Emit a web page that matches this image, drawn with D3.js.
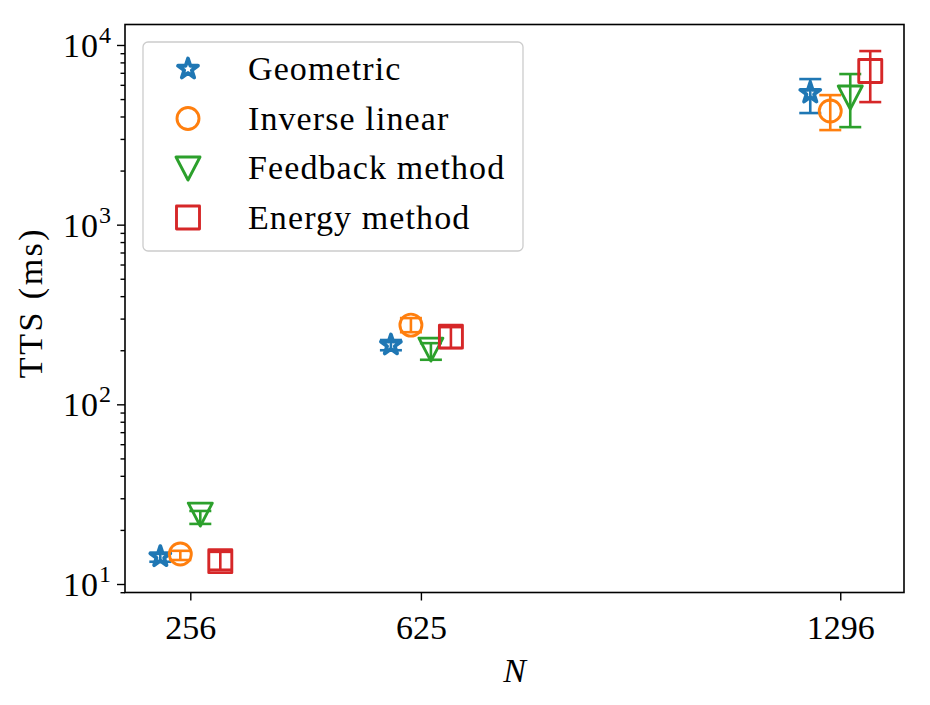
<!DOCTYPE html>
<html>
<head>
<meta charset="utf-8">
<script src="https://cdn.jsdelivr.net/npm/d3@7"></script>
<style>
  body { margin: 0; background: #fff; }
  svg text { font-family: "Liberation Serif", "DejaVu Serif", serif; fill: #000; }
</style>
</head>
<body>
<svg id="chart" width="930" height="705"></svg>
<script>
// data
const sizes = [256, 625, 1296]
const methods = ['Geometric', 'Inverse linear', 'Feedback method', 'Energy method']
const colors = ['#1f77b4', '#ff7f0e', '#2ca02c', '#d62728']
const shapes = ['star', 'circle', 'triangle', 'square']

const geometricTTS = [14.2, 214, 5400]
const geometricLo = [13.3, 200, 4180]
const geometricHi = [14.9, 228, 6460]

const inverseTTS = [14.7, 276, 4290]
const inverseLo = [13.6, 252, 3360]
const inverseHi = [15.3, 302, 5260]

const feedbackTTS = [24.5, 203, 5130]
const feedbackLo = [21.6, 177, 3490]
const feedbackHi = [25.5, 219, 6890]

const energyTTS = [13.4, 238, 7160]
const energyLo = [12.0, 206, 4810]
const energyHi = [15.1, 269, 9250]

const xTicks = [256, 625, 1296]
const yMajor = [10, 100, 1000, 10000]
const yExp = [1, 2, 3, 4]

const series = [
  { tts: geometricTTS, lo: geometricLo, hi: geometricHi },
  { tts: inverseTTS, lo: inverseLo, hi: inverseHi },
  { tts: feedbackTTS, lo: feedbackLo, hi: feedbackHi },
  { tts: energyTTS, lo: energyLo, hi: energyHi }
]

const mLeft = 125, mRight = 904, mTop = 24.5, mBottom = 592.5
const dodge = 32   // horizontal offset between methods, in N units

const x = d3.scaleLinear().domain([151.5, 1398]).range([mLeft, mRight])
const y = d3.scaleLog().domain([Math.pow(10, 0.9527), Math.pow(10, 4.114)]).range([mBottom, mTop])

const svg = d3.select('#chart')

// marker paths
const markerPath = (shape) => {
  if (shape === 'star') {
    const R = 10.5, r = R * 0.381966
    const pts = d3.range(10).map(i => {
      const a = Math.PI / 5 * i - Math.PI / 2
      const rr = i % 2 ? r : R
      return [rr * Math.cos(a), rr * Math.sin(a)]
    })
    return 'M' + pts.join('L') + 'Z'
  }
  if (shape === 'circle') return d3.arc()({ innerRadius: 0, outerRadius: 11, startAngle: 0, endAngle: 2 * Math.PI })
  if (shape === 'triangle') return 'M-12,-11L12,-11L0,12Z'
  return 'M-11.5,-11.5L11.5,-11.5L11.5,11.5L-11.5,11.5Z'
}
const markerWidth = (shape) => shape === 'star' ? 3.8 : 2.9

// axes
svg.append('g')
  .attr('transform', `translate(${mLeft},0)`)
  .call(d3.axisLeft(y).tickValues(yMajor).tickSize(8).tickFormat(''))

const [yMin, yMax] = y.domain()
const minor = []
;[1, 10, 100, 1000].forEach(d => d3.range(2, 10).forEach(k => minor.push(d * k)))
svg.append('g')
  .attr('transform', `translate(${mLeft},0)`)
  .call(d3.axisLeft(y).tickValues(minor.filter(v => v >= yMin && v <= yMax)).tickSize(4.5).tickFormat(''))

svg.selectAll('.domain').remove()
svg.selectAll('.tick line').attr('stroke', '#000').attr('stroke-width', 1.4)

yMajor.forEach((d, i) => {
  const t = svg.append('text')
    .attr('x', mLeft - 14)
    .attr('y', y(d) + 12)
    .attr('text-anchor', 'end')
    .style('font-size', '34px')
  t.append('tspan').text('10').style('letter-spacing', '1px')
  t.append('tspan').attr('dy', -14).style('font-size', '24px').text(yExp[i])
})

const xAxis = svg.append('g')
  .attr('transform', `translate(0,${mBottom})`)
  .call(d3.axisBottom(x).tickValues(xTicks).tickSize(8).tickPadding(8).tickFormat(d3.format('d')))
xAxis.select('.domain').remove()
xAxis.selectAll('.tick line').attr('stroke', '#000').attr('stroke-width', 1.4)
xAxis.selectAll('.tick text').style('font-size', '34px').attr('dy', '0.9em')

svg.append('rect')
  .attr('x', mLeft).attr('y', mTop)
  .attr('width', mRight - mLeft).attr('height', mBottom - mTop)
  .attr('fill', 'none').attr('stroke', '#000').attr('stroke-width', 1.6)

svg.append('text')
  .attr('transform', `translate(42,${(mTop + mBottom) / 2 - 6}) rotate(-90)`)
  .attr('text-anchor', 'middle')
  .style('font-size', '34px').style('letter-spacing', '2.5px')
  .text('TTS (ms)')

svg.append('text')
  .attr('x', (mLeft + mRight) / 2).attr('y', 682)
  .attr('text-anchor', 'middle')
  .style('font-size', '34px').style('font-style', 'italic')
  .text('N')

// error bars + markers
series.forEach((s, i) => {
  const g = svg.append('g').attr('stroke', colors[i]).attr('stroke-width', 2.6).attr('fill', 'none')
  const off = (i - 1.5) * dodge
  sizes.forEach((n, j) => {
    const cx = x(n + off)
    g.append('line').attr('x1', cx).attr('x2', cx).attr('y1', y(s.lo[j])).attr('y2', y(s.hi[j]))
    ;[s.lo[j], s.hi[j]].forEach(v => {
      g.append('line').attr('x1', cx - 11).attr('x2', cx + 11).attr('y1', y(v)).attr('y2', y(v))
    })
    g.append('path')
      .attr('d', markerPath(shapes[i]))
      .attr('transform', `translate(${cx},${y(s.tts[j])})`)
      .attr('stroke-width', markerWidth(shapes[i]))
      .attr('stroke-linejoin', 'round')
  })
})

// legend
const legend = svg.append('g')
legend.append('rect')
  .attr('x', 143).attr('y', 42).attr('width', 380).attr('height', 209).attr('rx', 5)
  .attr('fill', '#fff').attr('fill-opacity', 0.8).attr('stroke', '#cccccc').attr('stroke-width', 1.3)

methods.forEach((m, i) => {
  const cy = 69 + i * 49.5
  legend.append('path')
    .attr('d', markerPath(shapes[i]))
    .attr('transform', `translate(188,${cy})`)
    .attr('fill', 'none').attr('stroke', colors[i])
    .attr('stroke-width', markerWidth(shapes[i]))
    .attr('stroke-linejoin', 'round')
  legend.append('text')
    .attr('x', 248).attr('y', cy + 11)
    .style('font-size', '34px').style('letter-spacing', '1.1px')
    .text(m)
})
</script>
</body>
</html>
